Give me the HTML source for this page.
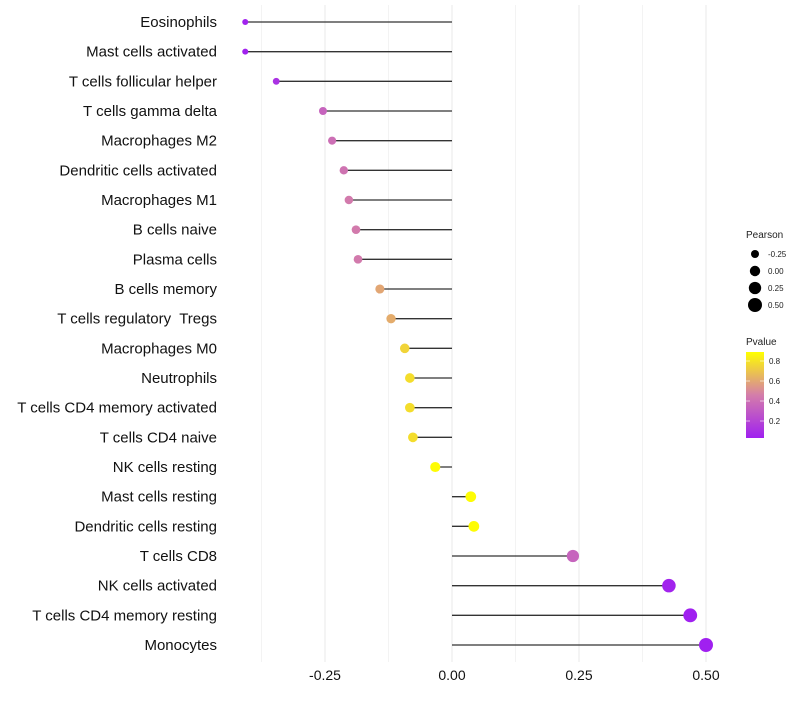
<!DOCTYPE html>
<html><head><meta charset="utf-8"><style>
body{margin:0;background:#fff;font-family:"Liberation Sans",sans-serif}
text{white-space:pre}
</style></head><body>
<svg id="c" width="800" height="700" xmlns="http://www.w3.org/2000/svg"></svg>
<script>
const categories=["Eosinophils","Mast cells activated","T cells follicular helper","T cells gamma delta","Macrophages M2","Dendritic cells activated","Macrophages M1","B cells naive","Plasma cells","B cells memory","T cells regulatory  Tregs ","Macrophages M0","Neutrophils","T cells CD4 memory activated","T cells CD4 naive","NK cells resting","Mast cells resting","Dendritic cells resting","T cells CD8","NK cells activated","T cells CD4 memory resting","Monocytes"];
const pearson=[-0.407,-0.407,-0.346,-0.254,-0.236,-0.213,-0.203,-0.189,-0.185,-0.142,-0.120,-0.093,-0.083,-0.083,-0.077,-0.033,0.037,0.043,0.238,0.427,0.469,0.500];
const pvalue=[0.05,0.05,0.12,0.35,0.40,0.42,0.45,0.45,0.45,0.60,0.62,0.75,0.78,0.78,0.78,0.88,0.88,0.88,0.35,0.06,0.04,0.03];
const xTicks=[-0.25,0,0.25,0.5];
const xTickLabels=["-0.25","0.00","0.25","0.50"];
const sizeLegend=[-0.25,0,0.25,0.5];
const colorLegend=[0.2,0.4,0.6,0.8];

const NS="http://www.w3.org/2000/svg";
const svg=document.getElementById('c');
const X=v=>452+v*508;
const Y=i=>22+i*(623/21);
const R=v=>Math.sqrt(Math.max(3,27+44*v));
function col(p){
  const t=Math.max(0,Math.min(1,(p-0.04)/0.85));
  const a=[160,32,240],m=[212,125,170],b=[255,255,0];
  let c;
  if(t<0.5){const s=t/0.5;c=a.map((x,k)=>x+(m[k]-x)*s);}else{const s=(t-0.5)/0.5;c=m.map((x,k)=>x+(b[k]-x)*s);}
  return `rgb(${c.map(Math.round).join(',')})`;
}
function el(tag,attrs,parent){const e=document.createElementNS(NS,tag);for(const k in attrs)e.setAttribute(k,attrs[k]);(parent||svg).appendChild(e);return e;}

[-0.375,-0.125,0.125,0.375].forEach(v=>{const g=el('line',{x1:X(v),x2:X(v),y1:5,y2:662,stroke:'#ebebeb','stroke-width':0.6});

});
xTicks.forEach((v,i)=>{const g=el('line',{x1:X(v),x2:X(v),y1:5,y2:662,stroke:'#ebebeb','stroke-width':1.1});


const t=el('text',{x:X(v),y:680,'text-anchor':'middle','font-size':14,fill:'#111'});t.textContent=xTickLabels[i];

});

categories.forEach((c,i)=>{
  const t=el('text',{x:217,y:Y(i)+5,'text-anchor':'end','font-size':15,fill:'#111'});t.textContent=c.replace(/ $/,'');
  
  
  const l=el('line',{x1:X(0),x2:X(pearson[i]),y1:Y(i),y2:Y(i),stroke:'#333','stroke-width':1.3});
  
  
  const p=el('circle',{cx:X(pearson[i]),cy:Y(i),r:R(pearson[i]),fill:col(pvalue[i])});
  
  
});

const lt=el('text',{x:746,y:238,'font-size':10,fill:'#222'});lt.textContent='Pearson';


sizeLegend.forEach((v,i)=>{const y=254+i*17;
  const c=el('circle',{cx:755,cy:y,r:R(v),fill:'#000'});
  
  
  const t=el('text',{x:768,y:y+3,'font-size':8,fill:'#222'});t.textContent=["-0.25","0.00","0.25","0.50"][i];
  
  });
const pt=el('text',{x:746,y:345,'font-size':10,fill:'#222'});pt.textContent='Pvalue';


const defs=el('defs',{});const lg=el('linearGradient',{id:'g',x1:0,y1:1,x2:0,y2:0},defs);
for(let k=0;k<=10;k++){const p=0.04+k*0.085;el('stop',{offset:k/10,'stop-color':col(p)},lg);}
const bar=el('rect',{x:746,y:352,width:18,height:86,fill:'url(#g)'});


colorLegend.forEach(v=>{const y=441-v*100;
  el('line',{x1:746,x2:750,y1:y,y2:y,stroke:'#fff','stroke-width':0.6});
  el('line',{x1:760,x2:764,y1:y,y2:y,stroke:'#fff','stroke-width':0.6});
  const t=el('text',{x:769,y:y+3,'font-size':8,fill:'#222'});t.textContent=v.toFixed(1);
  
  });
</script>
</body></html>
